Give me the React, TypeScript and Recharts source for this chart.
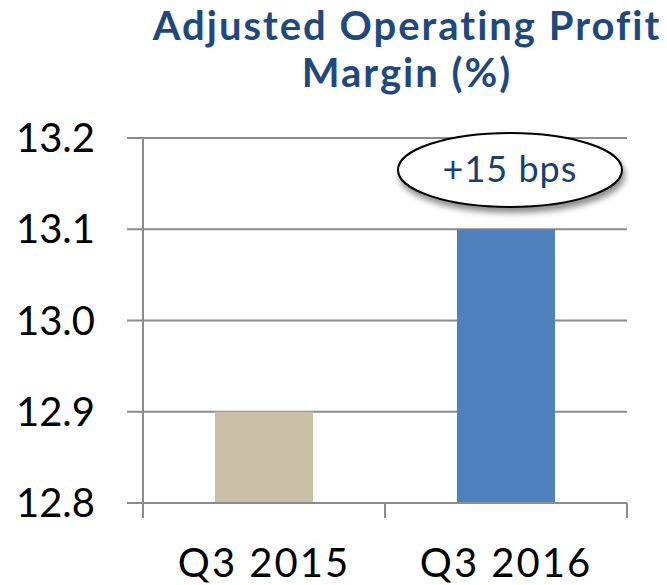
import { BarChart, Bar, XAxis, YAxis, CartesianGrid, Cell, ReferenceDot } from "recharts";

const quarters = ["Q3 2015", "Q3 2016"];
const margins = [12.9, 13.1];
const barColors = ["#C9BEA6", "#4F81BD"];
const yTicks = [12.8, 12.9, 13.0, 13.1, 13.2];
const callout = { quarter: "Q3 2016", y: 13.165, text: "+15 bps" };

const data = quarters.map((q, i) => ({ quarter: q, value: margins[i] }));

const FONT = "Lato, 'Open Sans', sans-serif";
const GRID = "#8c8c8c";
const NAVY = "#1F497D";
const HALF_BAND = 121;

function QuarterTick(props: any) {
  const { x, y, payload, index, visibleTicksCount } = props;
  return (
    <g>
      <line x1={x - HALF_BAND} y1={y} x2={x - HALF_BAND} y2={y + 15} stroke={GRID} strokeWidth={2} />
      {index === visibleTicksCount - 1 && (
        <line x1={x + HALF_BAND} y1={y} x2={x + HALF_BAND} y2={y + 15} stroke={GRID} strokeWidth={2} />
      )}
      <text
        x={x}
        y={y + 74}
        textAnchor="middle"
        fontSize={40}
        fontFamily={FONT}
        letterSpacing={2}
        fill="#000"
      >
        {payload.value}
      </text>
    </g>
  );
}

function Bubble(props: any) {
  const { cx, cy } = props;
  const x = cx + 4;
  return (
    <g>
      <defs>
        <filter id="bubbleShadow" x="-20%" y="-30%" width="140%" height="170%">
          <feDropShadow dx="2" dy="5" stdDeviation="3" floodColor="#000" floodOpacity="0.45" />
        </filter>
      </defs>
      <ellipse cx={x} cy={cy} rx={112} ry={37} fill="#fff" stroke="#000" strokeWidth={2} filter="url(#bubbleShadow)" />
      <text
        x={x}
        y={cy + 12}
        textAnchor="middle"
        fontSize={36}
        fontFamily={FONT}
        letterSpacing={1}
        fill="#1B3F6E"
      >
        {callout.text}
      </text>
    </g>
  );
}

export default function App() {
  return (
    <div style={{ position: "absolute", left: 0, top: 0, width: 667, height: 585, background: "#fff" }}>
      <div
        style={{
          position: "absolute",
          left: 150,
          top: 2,
          width: 514,
          textAlign: "center",
          fontFamily: FONT,
          fontWeight: 700,
          fontSize: 40,
          lineHeight: "47px",
          letterSpacing: 2,
          color: NAVY,
        }}
      >
        Adjusted Operating Profit
        <br />
        Margin (%)
      </div>
      <BarChart width={667} height={585} data={data} margin={{ top: 138, right: 40, bottom: 22, left: 0 }}>
        <CartesianGrid vertical={false} stroke={GRID} strokeWidth={2} />
        <XAxis
          dataKey="quarter"
          height={60}
          tickSize={0}
          tickMargin={0}
          tickLine={false}
          axisLine={{ stroke: GRID, strokeWidth: 2 }}
          tick={<QuarterTick />}
          interval={0}
        />
        <YAxis
          width={143}
          domain={[12.8, 13.2]}
          ticks={yTicks}
          tickFormatter={(v: number) => v.toFixed(1)}
          tickSize={16}
          tickMargin={32}
          tickLine={{ stroke: GRID, strokeWidth: 2 }}
          axisLine={{ stroke: GRID, strokeWidth: 2 }}
          tick={{ fontSize: 40, fontFamily: FONT, fill: "#000" }}
          allowDataOverflow
        />
        <Bar dataKey="value" barSize={98} isAnimationActive={false}>
          {data.map((d, i) => (
            <Cell key={d.quarter} fill={barColors[i]} />
          ))}
        </Bar>
        <ReferenceDot x={callout.quarter} y={callout.y} r={0} shape={<Bubble />} />
      </BarChart>
    </div>
  );
}
